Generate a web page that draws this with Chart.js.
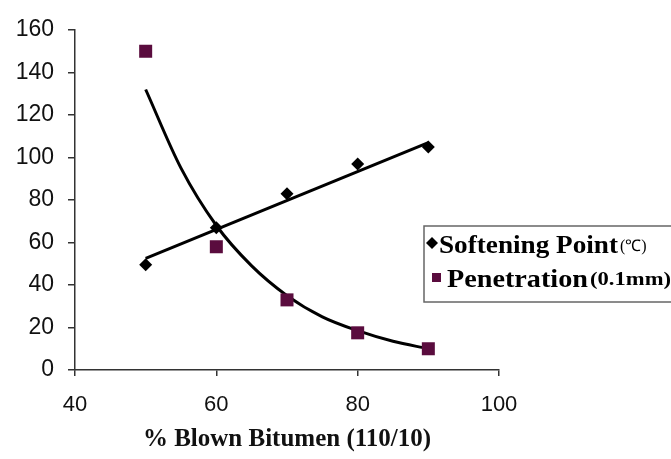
<!DOCTYPE html>
<html><head><meta charset="utf-8">
<script src="https://cdn.jsdelivr.net/npm/chart.js@4"></script>
<style>html,body{margin:0;padding:0;background:#fff}#wrap{width:671px;height:459px;position:relative}</style>
</head><body><div id="wrap"><canvas id="c" width="671" height="459"></canvas></div>
<script>
const blownPct = [50, 60, 70, 80, 90];
const softeningPoint = [49.5, 67, 83, 97, 105];
const penetration = [150, 58, 33, 17.5, 10];
const softTrendX = [50, 90];
const softTrend = [52.5, 107];
const penTrendX = [50, 55, 60, 65, 70, 75, 80, 85, 90];
const penTrend = [132, 95, 68, 49, 35, 25, 18.5, 13.5, 10];
const xTicks = [40, 60, 80, 100];
const yTicks = [0, 20, 40, 60, 80, 100, 120, 140, 160];
const legendLabels = [['Softening Point', '(℃)'], ['Penetration', '(0.1mm)']];
const xTitle = '% Blown Bitumen (110/10)';

const pts = (xs, ys) => xs.map((x, i) => ({x: x, y: ys[i]}));
const PURPLE = '#5a0c3e';

function fitText(ctx, text, x, y, font, targetW) {
  ctx.font = font;
  const w = ctx.measureText(text).width;
  const s = targetW / w;
  ctx.save();
  ctx.translate(x, y);
  ctx.scale(s, 1);
  ctx.fillText(text, 0, 0);
  ctx.restore();
  return x + targetW;
}

const legendPlugin = {
  id: 'boxLegend',
  afterDraw(chart) {
    const ctx = chart.ctx;
    ctx.save();
    ctx.fillStyle = '#fff';
    ctx.fillRect(424, 226, 250, 76);
    ctx.strokeStyle = '#666';
    ctx.lineWidth = 1.5;
    ctx.strokeRect(424, 226, 260, 76);
    ctx.fillStyle = '#000';
    ctx.beginPath();
    ctx.moveTo(432, 237); ctx.lineTo(438, 243); ctx.lineTo(432, 249); ctx.lineTo(426, 243); ctx.closePath();
    ctx.fill();
    ctx.fillStyle = PURPLE;
    ctx.fillRect(432, 273, 9, 9);
    ctx.fillStyle = '#000';
    ctx.textBaseline = 'alphabetic';
    let e = fitText(ctx, legendLabels[0][0], 439, 253, 'bold 25px "Liberation Serif"', 179);
    ctx.font = '16px "Liberation Serif"';
    ctx.fillText(legendLabels[0][1], e + 2, 251);
    e = fitText(ctx, legendLabels[1][0], 447, 287, 'bold 25px "Liberation Serif"', 141);
    fitText(ctx, legendLabels[1][1], e + 2, 285, 'bold 18px "Liberation Serif"', 81);
    ctx.restore();
  }
};

new Chart(document.getElementById('c'), {
  type: 'scatter',
  data: {
    datasets: [
      {label: 'Softening Point', data: pts(blownPct, softeningPoint), pointStyle: 'rectRot', pointRadius: 6.5, backgroundColor: '#000', borderColor: '#000', borderWidth: 0, order: 0},
      {label: 'Penetration', data: pts(blownPct, penetration), pointStyle: 'rect', pointRadius: 9.2, backgroundColor: PURPLE, borderColor: PURPLE, borderWidth: 0, order: 0},
      {label: 'soft trend', data: pts(softTrendX, softTrend), showLine: true, pointRadius: 0, borderColor: '#000', borderWidth: 3, order: 1},
      {label: 'pen trend', data: pts(penTrendX, penTrend), showLine: true, pointRadius: 0, borderColor: '#000', borderWidth: 3, cubicInterpolationMode: 'monotone', order: 1}
    ]
  },
  options: {
    responsive: false,
    animation: false,
    layout: {padding: {left: 0, right: 172, top: 30, bottom: 0}},
    plugins: {legend: {display: false}, tooltip: {enabled: false}},
    scales: {
      x: {
        type: 'linear', min: 40, max: 100,
        afterBuildTicks: a => { a.ticks = xTicks.map(v => ({value: v})); },
        afterFit: a => { a.height = 89; },
        grid: {drawOnChartArea: false, drawTicks: true, tickLength: 6, color: '#333', lineWidth: 1.5},
        border: {display: true, color: '#333', width: 1.5},
        ticks: {color: '#111', font: {family: 'Liberation Sans', size: 22}, padding: 16},
        title: {display: true, text: xTitle, color: '#111', font: {family: 'Liberation Serif', size: 25, weight: 'bold'}, padding: {top: 2}}
      },
      y: {
        type: 'linear', min: 0, max: 160,
        afterBuildTicks: a => { a.ticks = yTicks.map(v => ({value: v})); },
        afterFit: a => { a.width = 75; },
        grid: {drawOnChartArea: false, drawTicks: true, tickLength: 7, color: '#333', lineWidth: 1.5},
        border: {display: true, color: '#333', width: 1.5},
        ticks: {color: '#111', font: {family: 'Liberation Sans', size: 23}, padding: 14}
      }
    }
  },
  plugins: [legendPlugin]
});
</script></body></html>
